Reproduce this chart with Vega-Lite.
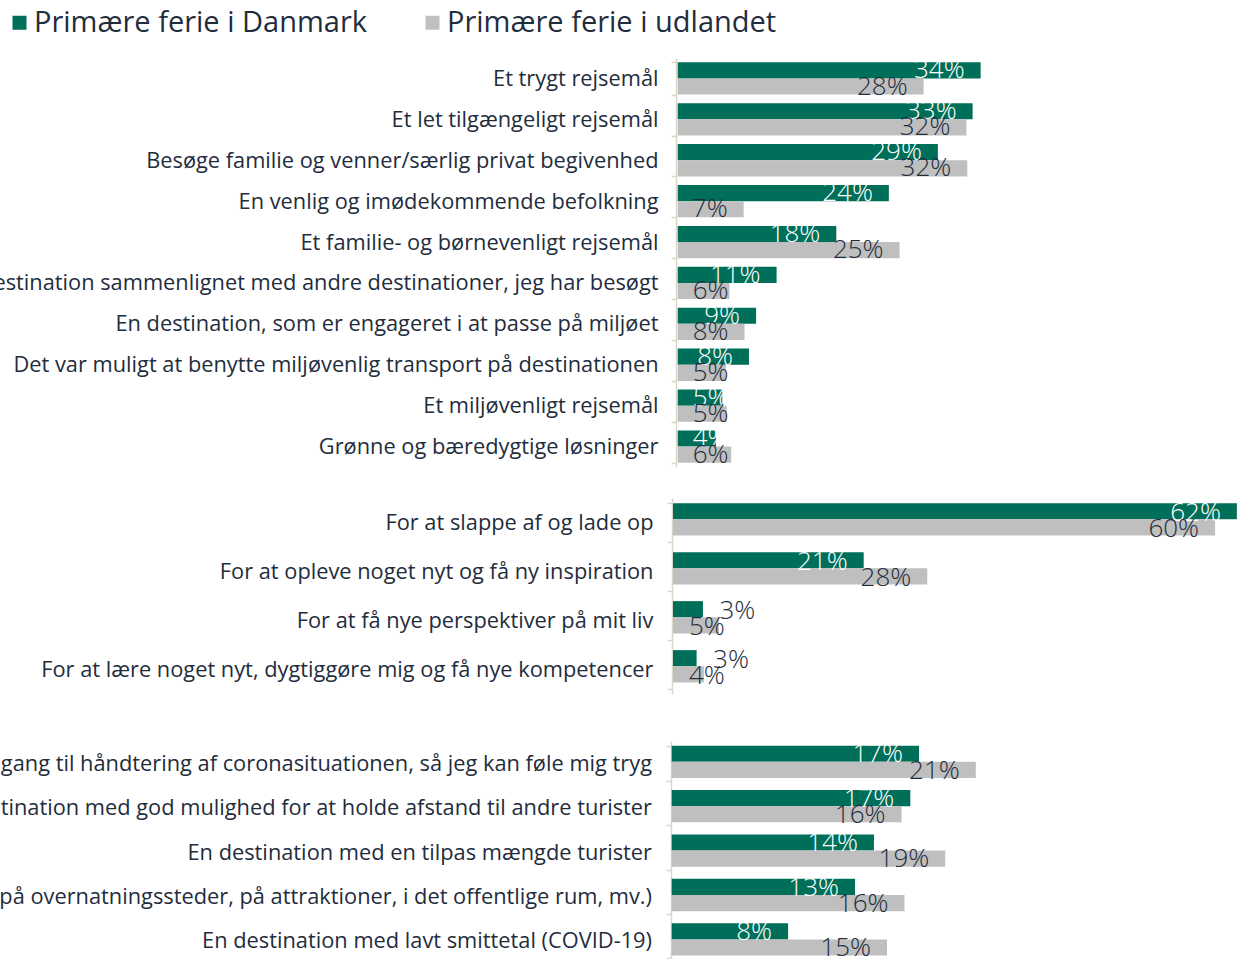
{
  "$schema": "https://vega.github.io/schema/vega-lite/v6.json",
  "background": "white",
  "padding": {"left": -11, "top": 8, "right": 0, "bottom": 0},
  "config": {
    "view": {"stroke": null},
    "font": "Open Sans",
    "axisY": {
      "title": null,
      "domainColor": "#dcd6c8",
      "domainWidth": 1.5,
      "tickColor": "#dcd6c8",
      "tickWidth": 1.5,
      "tickSize": 5,
      "tickBand": "extent",
      "labelPadding": 14,
      "labelFont": "Open Sans",
      "labelFontSize": 21.8,
      "labelColor": "#1f2d3d",
      "labelLimit": 2000,
      "minExtent": 669,
      "maxExtent": 669
    }
  },
  "datasets": {
    "p1": [
      {"category": "Et trygt rejsemål", "series": "Primære ferie i Danmark", "value": 34.0, "label": "34%"},
      {"category": "Et trygt rejsemål", "series": "Primære ferie i udlandet", "value": 27.6, "label": "28%"},
      {"category": "Et let tilgængeligt rejsemål", "series": "Primære ferie i Danmark", "value": 33.1, "label": "33%"},
      {"category": "Et let tilgængeligt rejsemål", "series": "Primære ferie i udlandet", "value": 32.4, "label": "32%"},
      {"category": "Besøge familie og venner/særlig privat begivenhed", "series": "Primære ferie i Danmark", "value": 29.2, "label": "29%"},
      {"category": "Besøge familie og venner/særlig privat begivenhed", "series": "Primære ferie i udlandet", "value": 32.5, "label": "32%"},
      {"category": "En venlig og imødekommende befolkning", "series": "Primære ferie i Danmark", "value": 23.7, "label": "24%"},
      {"category": "En venlig og imødekommende befolkning", "series": "Primære ferie i udlandet", "value": 7.4, "label": "7%"},
      {"category": "Et familie- og børnevenligt rejsemål", "series": "Primære ferie i Danmark", "value": 17.8, "label": "18%"},
      {"category": "Et familie- og børnevenligt rejsemål", "series": "Primære ferie i udlandet", "value": 24.9, "label": "25%"},
      {"category": "estination sammenlignet med andre destinationer, jeg har besøgt", "series": "Primære ferie i Danmark", "value": 11.1, "label": "11%"},
      {"category": "estination sammenlignet med andre destinationer, jeg har besøgt", "series": "Primære ferie i udlandet", "value": 5.8, "label": "6%"},
      {"category": "En destination, som er engageret i at passe på miljøet", "series": "Primære ferie i Danmark", "value": 8.8, "label": "9%"},
      {"category": "En destination, som er engageret i at passe på miljøet", "series": "Primære ferie i udlandet", "value": 7.5, "label": "8%"},
      {"category": "Det var muligt at benytte miljøvenlig transport på destinationen", "series": "Primære ferie i Danmark", "value": 8.0, "label": "8%"},
      {"category": "Det var muligt at benytte miljøvenlig transport på destinationen", "series": "Primære ferie i udlandet", "value": 5.4, "label": "5%"},
      {"category": "Et miljøvenligt rejsemål", "series": "Primære ferie i Danmark", "value": 5.0, "label": "5%"},
      {"category": "Et miljøvenligt rejsemål", "series": "Primære ferie i udlandet", "value": 5.5, "label": "5%"},
      {"category": "Grønne og bæredygtige løsninger", "series": "Primære ferie i Danmark", "value": 4.3, "label": "4%"},
      {"category": "Grønne og bæredygtige løsninger", "series": "Primære ferie i udlandet", "value": 6.0, "label": "6%"}
    ],
    "p2": [
      {"category": "For at slappe af og lade op", "series": "Primære ferie i Danmark", "value": 62.1, "label": "62%"},
      {"category": "For at slappe af og lade op", "series": "Primære ferie i udlandet", "value": 59.7, "label": "60%"},
      {"category": "For at opleve noget  nyt og få ny inspiration", "series": "Primære ferie i Danmark", "value": 21.0, "label": "21%"},
      {"category": "For at opleve noget  nyt og få ny inspiration", "series": "Primære ferie i udlandet", "value": 28.0, "label": "28%"},
      {"category": "For at få nye perspektiver på mit liv", "series": "Primære ferie i Danmark", "value": 3.3, "label": "3%"},
      {"category": "For at få nye perspektiver på mit liv", "series": "Primære ferie i udlandet", "value": 5.05, "label": "5%"},
      {"category": "For at lære noget nyt, dygtiggøre mig og få nye kompetencer", "series": "Primære ferie i Danmark", "value": 2.6, "label": "3%"},
      {"category": "For at lære noget nyt, dygtiggøre mig og få nye kompetencer", "series": "Primære ferie i udlandet", "value": 3.4, "label": "4%"}
    ],
    "p3": [
      {"category": "gang til håndtering af coronasituationen, så jeg kan føle mig tryg", "series": "Primære ferie i Danmark", "value": 17.0, "label": "17%"},
      {"category": "gang til håndtering af coronasituationen, så jeg kan føle mig tryg", "series": "Primære ferie i udlandet", "value": 20.9, "label": "21%"},
      {"category": "stination med god mulighed for at holde afstand til andre turister", "series": "Primære ferie i Danmark", "value": 16.4, "label": "17%"},
      {"category": "stination med god mulighed for at holde afstand til andre turister", "series": "Primære ferie i udlandet", "value": 15.8, "label": "16%"},
      {"category": "En destination med en tilpas mængde turister", "series": "Primære ferie i Danmark", "value": 13.9, "label": "14%"},
      {"category": "En destination med en tilpas mængde turister", "series": "Primære ferie i udlandet", "value": 18.8, "label": "19%"},
      {"category": "(på overnatningssteder, på attraktioner, i det offentlige rum, mv.)", "series": "Primære ferie i Danmark", "value": 12.6, "label": "13%"},
      {"category": "(på overnatningssteder, på attraktioner, i det offentlige rum, mv.)", "series": "Primære ferie i udlandet", "value": 16.0, "label": "16%"},
      {"category": "En destination med lavt smittetal (COVID-19)", "series": "Primære ferie i Danmark", "value": 8.0, "label": "8%"},
      {"category": "En destination med lavt smittetal (COVID-19)", "series": "Primære ferie i udlandet", "value": 14.8, "label": "15%"}
    ]
  },
  "spacing": 20,
  "resolve": {"scale": {"x": "independent", "y": "independent", "color": "shared", "fill": "shared"}},
  "vconcat": [
    {
      "width": 567,
      "height": 409,
      "data": {"name": "p1"},
      "encoding": {
        "y": {"field": "category", "type": "nominal", "sort": null, "scale": {"paddingInner": 0.21, "paddingOuter": 0.105}, "axis": {"offset": -5, "labelPadding": 13}},
        "yOffset": {"field": "series", "type": "nominal", "sort": null},
        "x": {"field": "value", "type": "quantitative", "scale": {"domain": [0, 60], "range": [6.7, 541.3], "nice": false}, "axis": null}
      },
      "layer": [
        {
          "mark": {"type": "bar"},
          "encoding": {
            "color": {
              "field": "series", "type": "nominal",
              "scale": {"domain": ["Primære ferie i Danmark", "Primære ferie i udlandet"], "range": ["#006f5a", "#bfbfbf"]},
              "legend": {"orient": "none", "legendX": -666, "legendY": -50, "direction": "horizontal", "title": null, "symbolType": "square", "symbolSize": 196, "symbolStrokeWidth": 0, "labelFont": "Open Sans", "labelFontSize": 29, "labelColor": "#1f2d3d", "labelOffset": 0, "columnPadding": 50, "labelLimit": 1000}
            }
          }
        },
        {
          "transform": [{"filter": "datum.value >= 6.5"}],
          "mark": {"type": "text", "align": "right", "baseline": "alphabetic", "dx": -16, "dy": 8, "fontSize": 26, "fontWeight": 300},
          "encoding": {
            "text": {"field": "label"},
            "fill": {"field": "series", "type": "nominal", "scale": {"domain": ["Primære ferie i Danmark", "Primære ferie i udlandet"], "range": ["#ffffff", "#1f2d3d"]}, "legend": null}
          }
        },
        {
          "transform": [{"filter": "datum.value < 6.5"}],
          "mark": {"type": "text", "align": "left", "baseline": "alphabetic", "dx": 15, "dy": 8, "fontSize": 26, "fontWeight": 300},
          "encoding": {
            "x": {"datum": 0, "type": "quantitative"},
            "text": {"field": "label"},
            "fill": {"field": "series", "type": "nominal", "legend": null}
          }
        }
      ]
    },
    {
      "width": 567,
      "height": 196,
      "data": {"name": "p2"},
      "encoding": {
        "y": {"field": "category", "type": "nominal", "sort": null, "scale": {"paddingInner": 0.21, "paddingOuter": 0.105}, "axis": {"offset": -1}},
        "yOffset": {"field": "series", "type": "nominal", "sort": null},
        "x": {"field": "value", "type": "quantitative", "scale": {"domain": [0, 60], "range": [2, 546.8], "nice": false}, "axis": {"labels": false, "ticks": false, "domain": false, "grid": false, "title": null, "minExtent": 17, "maxExtent": 17}}
      },
      "layer": [
        {
          "mark": {"type": "bar", "clip": true},
          "encoding": {"color": {"field": "series", "type": "nominal"}}
        },
        {
          "transform": [{"filter": "datum.value >= 6"}],
          "mark": {"type": "text", "align": "right", "baseline": "alphabetic", "dx": -16, "dy": 9.75, "fontSize": 26, "fontWeight": 300, "clip": true},
          "encoding": {
            "text": {"field": "label"},
            "fill": {"field": "series", "type": "nominal", "legend": null}
          }
        },
        {
          "transform": [{"filter": "datum.value < 6 && datum.series == 'Primære ferie i udlandet'"}],
          "mark": {"type": "text", "align": "left", "baseline": "alphabetic", "dx": 16, "dy": 9.75, "fontSize": 26, "fontWeight": 300},
          "encoding": {
            "x": {"datum": 0, "type": "quantitative"},
            "text": {"field": "label"},
            "fill": {"field": "series", "type": "nominal", "legend": null}
          }
        },
        {
          "transform": [{"filter": "datum.value < 6 && datum.series == 'Primære ferie i Danmark'"}],
          "mark": {"type": "text", "align": "left", "baseline": "alphabetic", "dx": 16.5, "dy": 9.75, "fontSize": 26, "fontWeight": 300, "color": "#1f2d3d"},
          "encoding": {
            "text": {"field": "label"}
          }
        }
      ]
    },
    {
      "width": 567,
      "height": 222,
      "data": {"name": "p3"},
      "encoding": {
        "y": {"field": "category", "type": "nominal", "sort": null, "scale": {"paddingInner": 0.21, "paddingOuter": 0.105}, "axis": {"offset": 0, "labelPadding": 14.5}},
        "yOffset": {"field": "series", "type": "nominal", "sort": null},
        "x": {"field": "value", "type": "quantitative", "scale": {"domain": [0, 30], "range": [0.7, 437.2], "nice": false}, "axis": null}
      },
      "layer": [
        {
          "mark": {"type": "bar"},
          "encoding": {"color": {"field": "series", "type": "nominal"}}
        },
        {
          "mark": {"type": "text", "align": "right", "baseline": "alphabetic", "dx": -16, "dy": 8.75, "fontSize": 26, "fontWeight": 300},
          "encoding": {
            "text": {"field": "label"},
            "fill": {"field": "series", "type": "nominal", "legend": null}
          }
        }
      ]
    }
  ]
}
